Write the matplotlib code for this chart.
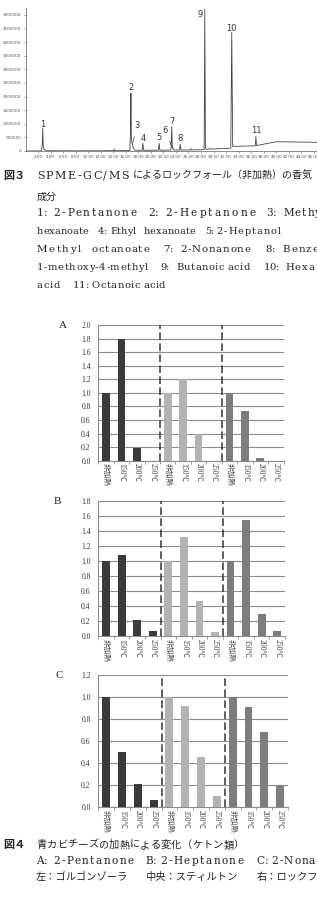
"""Chromatogram (Fig. 3) and ketone bar charts (Fig. 4), page-strip layout."""
import matplotlib
matplotlib.use('Agg')
import matplotlib.pyplot as plt
from matplotlib.font_manager import FontProperties
import numpy as np

W, H = 317, 908
SERIF = ['DejaVu Serif', 'Noto Sans CJK JP']
TIMES = ['Liberation Serif', 'Noto Sans CJK JP']
plt.rcParams['font.family'] = SERIF

# ---------------- data ----------------
# SPME-GC/MS trace (retention time [min], abundance)
ret_time = [0.0, 2.55, 2.68, 2.75, 2.82, 2.95, 3.3, 8.0, 14.05, 14.15, 14.25,
            16.65, 16.75, 16.82, 16.88, 16.95, 17.05, 17.2, 17.45,
            18.6, 18.72, 18.84, 21.2, 21.32, 21.44,
            23.2, 23.33, 23.42, 23.55, 23.7, 24.56, 24.68, 24.8,
            26.3, 26.4, 26.5, 28.5, 28.6, 28.7, 28.9, 29.3, 29.4, 29.5,
            32.75, 32.9, 33.05, 36.65, 36.75, 36.85, 40.0, 46.5]
abundance = [0, 5000, 250000, 840000, 200000, 60000, 10000, 5000, 10000, 70000, 10000,
             20000, 700000, 2130000, 600000, 320000, 250000, 120000, 30000,
             25000, 280000, 25000, 30000, 280000, 30000,
             35000, 890000, 120000, 90000, 35000, 35000, 245000, 35000,
             40000, 80000, 40000, 50000, 5200000, 120000, 60000, 70000, 100000, 70000,
             100000, 4350000, 170000, 190000, 520000, 200000, 340000, 320000]

peak_ids = ['1', '2', '3', '4', '5', '6', '7', '8', '9', '10', '11']
peak_time = [2.75, 16.82, 17.05, 18.72, 21.32, 23.45, 23.33, 24.68, 28.6, 32.9, 36.75]
peak_top = [840000, 2130000, 250000, 280000, 280000, 100000, 890000, 245000,
            5200000, 4350000, 520000]

# relative amount (non-heated = 1.0)
temps = ['非加熱', '150℃', '200℃', '250℃']
cheeses = ['ゴルゴンゾーラ', 'スティルトン', 'ロックフォール']
pentanone = [[1.00, 1.80, 0.19, 0.00],
             [1.00, 1.20, 0.40, 0.00],
             [1.00, 0.73, 0.04, 0.00]]
heptanone = [[1.00, 1.08, 0.21, 0.07],
             [1.00, 1.32, 0.47, 0.05],
             [1.00, 1.55, 0.30, 0.07]]
nonanone = [[1.00, 0.50, 0.21, 0.065],
            [1.00, 0.92, 0.46, 0.10],
            [1.00, 0.91, 0.68, 0.20]]

CHEESE_COLORS = ['#3a3a3a', '#b3b3b3', '#7d7d7d']
GRID = '#8c8c8c'

fig = plt.figure(figsize=(W / 100, H / 100), dpi=100)
fig.patch.set_facecolor('white')
renderer = fig.canvas.get_renderer()


def spaced(x0, y, s, x1=None, track=0.0, size=7.0, family=SERIF, weight='normal',
           color='#222222'):
    """Draw s with letter spacing; x0..x1 in pixels, y = baseline in pixels."""
    fp = FontProperties(family=family, size=size, weight=weight)
    pre = [0.0] + [renderer.get_text_width_height_descent(s[:i], fp, ismath=False)[0]
                   for i in range(1, len(s) + 1)]
    if x1 is not None and len(s) > 1:
        track = max(0.0, (x1 - x0 - pre[-1]) / (len(s) - 1))
    for i, ch in enumerate(s):
        fig.text((x0 + pre[i] + i * track) / W, 1 - y / H, ch, fontproperties=fp,
                 ha='left', va='baseline', color=color)


def ptext(x, y, s, size=7.0, family=SERIF, weight='normal', color='#222222'):
    fig.text(x / W, 1 - y / H, s, fontsize=size, family=family, weight=weight,
             ha='left', va='baseline', color=color)


# ---------------- chromatogram ----------------
cx0, cy0 = 25.5, 151.0
ax = fig.add_axes([cx0 / W, 1 - cy0 / H, (W - cx0) / W, (cy0 - 8.0) / H])
ax.plot(ret_time, abundance, color='#444444', lw=0.6)
ax.set_xlim(0, 46.5)
ax.set_ylim(0, 5.25e6)
for s in ['top', 'right']:
    ax.spines[s].set_visible(False)
for s in ['left', 'bottom']:
    ax.spines[s].set_color('#777777')
    ax.spines[s].set_linewidth(0.6)
ax.set_yticks(np.arange(0, 5000001, 500000))
ax.set_yticklabels([str(v) for v in range(0, 5000001, 500000)])
ax.set_xticks(np.arange(2, 47, 2))
ax.set_xticklabels([f'{v:.2f}' for v in range(2, 47, 2)])
ax.tick_params(labelsize=3, length=1.5, width=0.4, pad=1.5, colors='#555555')
for lab in ax.get_xticklabels() + ax.get_yticklabels():
    lab.set_family('DejaVu Sans')

# label offsets in pixels (dx, dy up) from the peak apex
offs = [(0, 3.7), (0, 5.7), (4.6, 18.2), (0, 5.3), (0, 5.6), (-7.3, 17.6),
        (0, 4.9), (0, 5.6), (-5, -5.5), (0, 4.5), (0, 6.8)]
for pid, t, top, (dx, dy) in zip(peak_ids, peak_time, peak_top, offs):
    leader = pid in ('3', '6')
    ax.annotate(pid, xy=(t, top), xytext=(dx * 0.72, dy * 0.72),
                textcoords='offset points', ha='center', va='center',
                fontsize=6, family='DejaVu Sans', color='#333333',
                arrowprops=dict(arrowstyle='-', color='#444444', lw=0.5,
                                shrinkA=2.5, shrinkB=0) if leader else None)

# ---------------- Fig.3 caption ----------------
ptext(3.3, 179, '図３', size=8, family=['Noto Sans CJK JP'], weight='bold')
spaced(36.7, 179, 'SPME-GC/MS', x1=129, size=8)
ptext(133, 179, 'によるロックフォール（非加熱）の香気', size=7.2)
ptext(36.7, 200, '成分', size=7.2)

caption3 = [
    (216.5, 7.6, [('1:', 36.7, 45), ('2-Pentanone', 53.3, 136.5), ('2:', 148.3, 156.7),
                  ('2-Heptanone', 165, 255.5), ('3:', 266.7, 276), ('Methyl', 283.3, None)]),
    (234.5, 7.0, [('hexanoate', 36.7, 88), ('4:', 97.3, 106), ('Ethyl', 110, 130.5),
                  ('hexanoate', 143.3, 195.5), ('5:', 205, 213.3),
                  ('2-Heptanol', 216.7, 280.5)]),
    (252.5, 7.4, [('Methyl', 36.7, 80.5), ('octanoate', 91.7, 149), ('7:', 163.3, 171.7),
                  ('2-Nonanone', 180, 250.5), ('8:', 265, 273.3), ('Benzene,', 282.7, None)]),
    (270.5, 7.2, [('1-methoxy-4-methyl', 36.7, 147.7), ('9:', 160, 168.3),
                  ('Butanoic', 176, 224), ('acid', 227, 250), ('10:', 263.3, 278.3),
                  ('Hexanoic', 285, None)]),
    (287.5, 7.2, [('acid', 36.7, 60), ('11:', 72.7, 86), ('Octanoic', 91.7, 140),
                  ('acid', 143, 165)]),
]
for y, size, words in caption3:
    for w, xa, xb in words:
        spaced(xa, y, w, x1=xb, track=1.0, size=size)


# ---------------- bar panels ----------------
def bar_panel(left, right, top, bottom, values, ymax, letter, letter_xy):
    a = fig.add_axes([left / W, 1 - bottom / H, (right - left) / W, (bottom - top) / H])
    x = np.arange(12) + 0.5
    heights = [v for grp in values for v in grp]
    colors = [c for c in CHEESE_COLORS for _ in temps]
    a.bar(x, heights, width=0.5, color=colors, zorder=3)
    a.set_xlim(0, 12)
    a.set_ylim(0, ymax)
    ticks = np.arange(0, ymax + 0.001, 0.2)
    a.set_yticks(ticks)
    a.set_yticklabels([f'{v:.1f}' for v in ticks], family=TIMES)
    a.yaxis.grid(True, color=GRID, lw=0.8, zorder=0)
    a.set_axisbelow(True)
    for xv in (4, 8):
        a.axvline(xv, color='#333333', lw=1.1, ls=(0, (5, 2.2)), zorder=4)
    for s in ['top', 'right']:
        a.spines[s].set_visible(False)
    for s in ['left', 'bottom']:
        a.spines[s].set_color(GRID)
        a.spines[s].set_linewidth(0.8)
    a.set_xticks(x)
    a.set_xticklabels(temps * len(cheeses), rotation=270, family=TIMES)
    a.set_xticks(np.arange(13), minor=True)
    a.tick_params(axis='x', which='major', length=0, pad=2, labelsize=5.5,
                  colors='#444444')
    a.tick_params(axis='x', which='minor', length=2, width=0.6, color=GRID)
    a.tick_params(axis='y', length=0, pad=5.5, labelsize=5.5, colors='#333333')
    fig.text(letter_xy[0] / W, 1 - letter_xy[1] / H, letter, fontsize=8,
             family=TIMES, ha='center', va='center', color='#222222')
    return a


bar_panel(98.3, 283.5, 325, 460.7, pentanone, 2.0, 'A', (62.7, 325))
bar_panel(98.3, 285.0, 501, 636.0, heptanone, 1.8, 'B', (57.3, 502))
bar_panel(98.3, 288.0, 675, 807.3, nonanone, 1.2, 'C', (59.0, 675))

# ---------------- Fig.4 caption ----------------
ptext(3.3, 848, '図４', size=8, family=['Noto Sans CJK JP'], weight='bold')
spaced(36, 848, '青カビチーズの加熱による変化（ケトン類）', x1=244, size=7.4)
for w, xa, xb in [('A:', 36, 46.7), ('2-Pentanone', 53.3, 133.5), ('B:', 145, 155),
                  ('2-Heptanone', 160, 243.5), ('C:', 256.7, 266.7),
                  ('2-Nonanone', 271.7, 345)]:
    spaced(xa, 864.5, w, x1=xb, size=7.6)
ptext(36, 880, '左：ゴルゴンゾーラ', size=7.4)
ptext(145, 880, '中央：スティルトン', size=7.4)
ptext(257, 880, '右：ロックフォール', size=7.4)

fig.savefig('out.png', dpi=100, facecolor='white')
